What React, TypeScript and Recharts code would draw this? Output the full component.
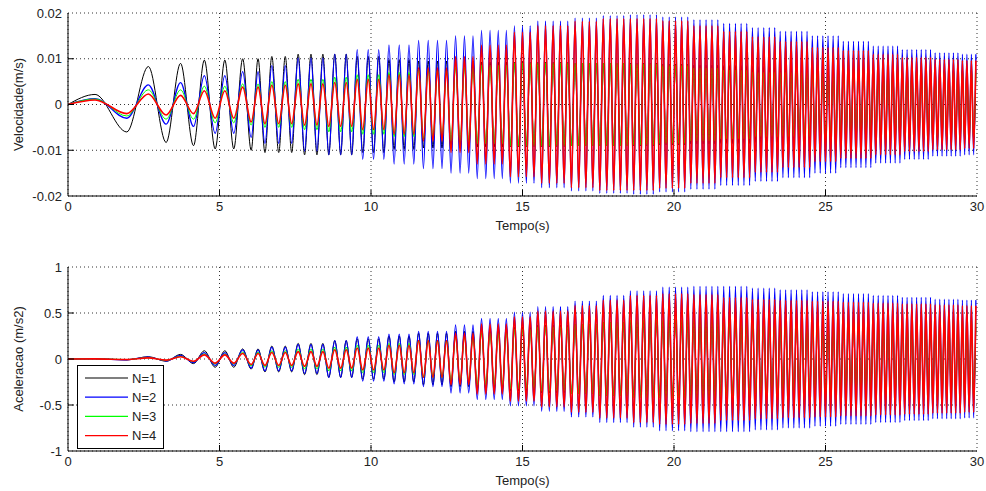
import React from 'react'
import { LineChart, Line, XAxis, YAxis, CartesianGrid } from 'recharts'

// oscillation frequency seen in each 1 s bin (cycles per second), read from peak spacing
const freqPerSecond = [
  0.28, 0.5, 0.72, 1.05, 1.4, 1.7, 2.2, 2.35, 2.55, 2.75,
  2.95, 3.15, 3.35, 3.55, 3.75, 3.95, 4.15, 4.35, 4.55, 4.75,
  4.95, 5.15, 5.35, 5.55, 5.75, 5.95, 6.15, 6.35, 6.55, 6.75,
]

// peak amplitude of each series, read at every second t = 0..30
const velN1 = [0, 0.0022, 0.006, 0.0083, 0.009, 0.0097, 0.01, 0.0105, 0.011, 0.011, 0.0105, 0.0098, 0.0095, 0.0095, 0.0093, 0.0092, 0.0092, 0.009, 0.009, 0.009, 0.0088, 0.0086, 0.0085, 0.0083, 0.0082, 0.008, 0.0078, 0.0077, 0.0076, 0.0075, 0.0075]
const velN2 = [0, 0.0013, 0.003, 0.0043, 0.0048, 0.0063, 0.0072, 0.0085, 0.0102, 0.011, 0.012, 0.013, 0.014, 0.015, 0.0162, 0.0172, 0.0182, 0.0189, 0.0194, 0.0196, 0.0191, 0.0185, 0.0177, 0.0168, 0.016, 0.015, 0.0138, 0.0128, 0.012, 0.0113, 0.011]
const velN3 = [0, 0.0012, 0.0025, 0.0032, 0.0032, 0.004, 0.0045, 0.005, 0.0055, 0.006, 0.0065, 0.007, 0.0075, 0.008, 0.0085, 0.009, 0.009, 0.009, 0.009, 0.0088, 0.0085, 0.008, 0.0075, 0.007, 0.007, 0.0072, 0.0075, 0.0075, 0.0072, 0.007, 0.007]
const velN4 = [0, 0.001, 0.002, 0.0023, 0.002, 0.003, 0.0038, 0.0042, 0.0045, 0.0048, 0.0055, 0.0065, 0.008, 0.0105, 0.013, 0.0158, 0.0172, 0.0182, 0.0188, 0.0188, 0.0183, 0.0172, 0.016, 0.0148, 0.0138, 0.0125, 0.0118, 0.011, 0.0103, 0.0099, 0.0096]

const accN1 = [0, 0.003, 0.01, 0.025, 0.05, 0.09, 0.11, 0.14, 0.17, 0.2, 0.22, 0.25, 0.28, 0.3, 0.33, 0.35, 0.37, 0.38, 0.4, 0.4, 0.4, 0.4, 0.39, 0.38, 0.38, 0.37, 0.36, 0.36, 0.35, 0.35, 0.35]
const accN2 = [0, 0.002, 0.008, 0.02, 0.04, 0.07, 0.1, 0.13, 0.16, 0.2, 0.24, 0.27, 0.3, 0.37, 0.44, 0.51, 0.57, 0.63, 0.69, 0.74, 0.78, 0.79, 0.79, 0.77, 0.75, 0.73, 0.71, 0.69, 0.67, 0.65, 0.64]
const accN3 = [0, 0.0015, 0.006, 0.015, 0.03, 0.055, 0.075, 0.09, 0.11, 0.13, 0.15, 0.17, 0.2, 0.24, 0.28, 0.32, 0.35, 0.38, 0.4, 0.42, 0.42, 0.42, 0.4, 0.38, 0.38, 0.38, 0.4, 0.4, 0.42, 0.42, 0.42]
const accN4 = [0, 0.001, 0.005, 0.012, 0.025, 0.045, 0.06, 0.07, 0.08, 0.1, 0.12, 0.15, 0.2, 0.28, 0.38, 0.46, 0.52, 0.58, 0.64, 0.69, 0.71, 0.7, 0.67, 0.65, 0.64, 0.63, 0.62, 0.61, 0.6, 0.59, 0.58]

const xTicks = [0, 5, 10, 15, 20, 25, 30]
const velTicks = [-0.02, -0.01, 0, 0.01, 0.02]
const accTicks = [-1, -0.5, 0, 0.5, 1]

const SERIES = [
  { key: 'n1', name: 'N=1', color: '#000000', width: 1 },
  { key: 'n2', name: 'N=2', color: '#0000ff', width: 1.3 },
  { key: 'n3', name: 'N=3', color: '#00ff00', width: 1 },
  { key: 'n4', name: 'N=4', color: '#ff0000', width: 1.6 },
]

const FONT = '"Liberation Sans", Arial, sans-serif'
const FONT_SIZE = 13
const TICK_GAP = 6

// times of the successive peaks/troughs, walking the per-second frequencies
function peakTimes(): number[] {
  const times: number[] = []
  let phase = 0
  let next = 0.25
  freqPerSecond.forEach((f, s) => {
    const end = phase + f
    while (next <= end) {
      times.push(s + (next - phase) / f)
      next += 0.5
    }
    phase = end
  })
  return times
}

function buildRows(amps: number[][]) {
  const rows: Array<Record<string, number>> = [{ t: 0, n1: 0, n2: 0, n3: 0, n4: 0 }]
  peakTimes().forEach((t, i) => {
    const sign = i % 2 === 0 ? 1 : -1
    const idx = Math.min(30, Math.round(t))
    const row: Record<string, number> = { t }
    SERIES.forEach((s, j) => { row[s.key] = sign * amps[j][idx] })
    rows.push(row)
  })
  return rows
}

const velRows = buildRows([velN1, velN2, velN3, velN4])
const accRows = buildRows([accN1, accN2, accN3, accN4])

function XTick({ x, y, payload }: any) {
  const axisY = y - TICK_GAP
  return (
    <g>
      {payload.value !== 0 && payload.value !== 30 && (
        <line x1={x} x2={x} y1={axisY} y2={axisY - 6} stroke="#000" />
      )}
      <text x={x} y={y} dy="0.71em" textAnchor="middle" fontSize={FONT_SIZE} fontFamily={FONT} fill="#222">
        {payload.value}
      </text>
    </g>
  )
}

function YTick({ x, y, payload, index, visibleTicksCount }: any) {
  const axisX = x + TICK_GAP
  const edge = index === 0 || index === visibleTicksCount - 1
  return (
    <g>
      {!edge && <line x1={axisX} x2={axisX + 6} y1={y} y2={y} stroke="#000" />}
      <text x={x} y={y} dy="0.35em" textAnchor="end" fontSize={FONT_SIZE} fontFamily={FONT} fill="#222">
        {payload.value}
      </text>
    </g>
  )
}

function LegendBox() {
  return (
    <svg width={87} height={84} style={{ position: 'absolute', left: 77, top: 365 }}>
      <rect x={0.5} y={0.5} width={86} height={83} fill="#fff" stroke="#000" />
      {SERIES.map((s, i) => (
        <g key={s.key}>
          <line x1={8} x2={51} y1={13 + i * 19.2} y2={13 + i * 19.2} stroke={s.color} strokeWidth={1.2} />
          <text x={55} y={13 + i * 19.2} dy="0.35em" fontSize={FONT_SIZE} fontFamily={FONT} fill="#222">{s.name}</text>
        </g>
      ))}
    </svg>
  )
}

interface PanelProps {
  rows: Array<Record<string, number>>
  yTicks: number[]
  yLabel: string
  height: number
  marginTop: number
  marginBottom: number
}

function Panel({ rows, yTicks, yLabel, height, marginTop, marginBottom }: PanelProps) {
  return (
    <LineChart width={986} height={height} data={rows} margin={{ top: marginTop, right: 9, bottom: marginBottom, left: 0 }}>
      <CartesianGrid stroke="#333" strokeDasharray="1 3" />
      <XAxis
        dataKey="t"
        type="number"
        domain={[0, 30]}
        ticks={xTicks}
        interval={0}
        height={36}
        stroke="#000"
        tickSize={0}
        tickMargin={TICK_GAP}
        tick={<XTick />}
        label={{ value: 'Tempo(s)', position: 'insideBottom', offset: 2, fontSize: FONT_SIZE, fontFamily: FONT, fill: '#222' }}
      />
      <YAxis
        type="number"
        domain={[yTicks[0], yTicks[yTicks.length - 1]]}
        ticks={yTicks}
        interval={0}
        width={68}
        stroke="#000"
        allowDataOverflow
        tickSize={0}
        tickMargin={TICK_GAP}
        tick={<YTick />}
        label={{ value: yLabel, angle: -90, position: 'insideLeft', offset: 18, fontSize: FONT_SIZE, fontFamily: FONT, fill: '#222', style: { textAnchor: 'middle' } }}
      />
      {SERIES.map(s => (
        <Line
          key={s.key}
          type="monotone"
          dataKey={s.key}
          name={s.name}
          stroke={s.color}
          strokeWidth={s.width}
          dot={false}
          activeDot={false}
          isAnimationActive={false}
        />
      ))}
    </LineChart>
  )
}

export default function App() {
  return (
    <div style={{ position: 'absolute', left: 0, top: 0, width: 986, height: 491, background: '#fff' }}>
      <div style={{ position: 'absolute', left: 0, top: 0 }}>
        <Panel rows={velRows} yTicks={velTicks} yLabel="Velocidade(m/s)" height={245} marginTop={13} marginBottom={13} />
      </div>
      <div style={{ position: 'absolute', left: 0, top: 245 }}>
        <Panel rows={accRows} yTicks={accTicks} yLabel="Aceleracao (m/s2)" height={246} marginTop={22} marginBottom={4} />
      </div>
      <LegendBox />
    </div>
  )
}
